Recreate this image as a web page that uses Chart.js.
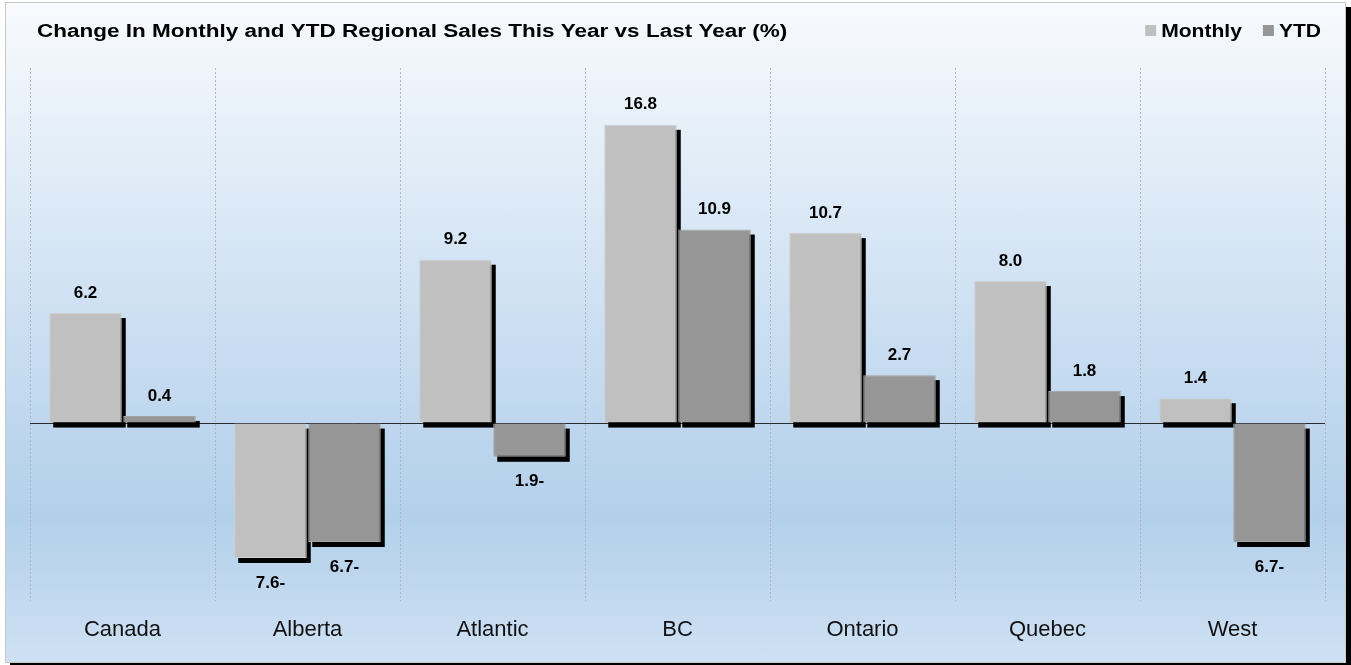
<!DOCTYPE html>
<html>
<head>
<meta charset="utf-8">
<script src="https://cdn.jsdelivr.net/npm/chart.js@4"></script>
<style>
    html, body { margin: 0; padding: 0; background: #fff; }
    body { width: 1351px; height: 665px; position: relative; overflow: hidden; }
    #panel {
        position: absolute; left: 5px; top: 2px; width: 1341px; height: 661px;
        box-sizing: border-box; border: 1px solid #c8c8c8;
        background: linear-gradient(to bottom, #f8fafd 0%, #e7f0f9 18%, #cfe1f3 45%, #bdd6ee 65%, #b3d0eb 78%, #c4daf0 92%, #cfe2f4 100%);
        box-shadow: 5px 5px 0 #000;
    }
    #wrap { position: absolute; left: 0; top: 0; width: 1351px; height: 665px; }
</style>
</head>
<body>
<div id="panel"></div>
<div id="wrap"><canvas id="salesChart"></canvas></div>
<script>
const chartTitle = 'Change In Monthly and YTD Regional Sales This Year vs Last Year (%)';
const regions = ['Canada', 'Alberta', 'Atlantic', 'BC', 'Ontario', 'Quebec', 'West'];
const monthly = [6.2, -7.6, 9.2, 16.8, 10.7, 8.0, 1.4];
const ytd = [0.4, -6.7, -1.9, 10.9, 2.7, 1.8, -6.7];
const yMin = -10;
const yMax = 20;

const FONT = '"Liberation Sans", Arial, sans-serif';

// black drop shadow behind every bar, drawn before the bars
const barShadows = {
    id: 'barShadows',
    beforeDatasetsDraw(chart) {
        const ctx = chart.ctx;
        ctx.save();
        ctx.fillStyle = '#000';
        chart.data.datasets.forEach((ds, i) => {
            chart.getDatasetMeta(i).data.forEach(bar => {
                const p = bar.getProps(['x', 'y', 'base', 'width'], true);
                const top = Math.min(p.y, p.base);
                ctx.fillRect(p.x - p.width / 2 + 4, top + 5, p.width, Math.abs(p.base - p.y));
            });
        });
        ctx.restore();
    }
};

// value labels, negatives written as "7.6-"
const valueLabels = {
    id: 'valueLabels',
    afterDatasetsDraw(chart) {
        const ctx = chart.ctx;
        ctx.save();
        ctx.font = 'bold 17px ' + FONT;
        ctx.fillStyle = '#000';
        ctx.textAlign = 'center';
        ctx.textBaseline = 'middle';
        chart.data.datasets.forEach((ds, i) => {
            chart.getDatasetMeta(i).data.forEach((bar, j) => {
                const v = ds.data[j];
                const text = v < 0 ? Math.abs(v).toFixed(1) + '-' : v.toFixed(1);
                const y = v < 0 ? bar.y + 25 : bar.y - 20;
                ctx.fillText(text, bar.x, y);
            });
        });
        ctx.restore();
    }
};

// title on the left and legend on the right, same row
const header = {
    id: 'header',
    afterDraw(chart) {
        const ctx = chart.ctx;
        ctx.save();
        ctx.fillStyle = '#000';
        ctx.font = 'bold 18px ' + FONT;
        ctx.textBaseline = 'alphabetic';

        ctx.save();
        ctx.translate(37, 37);
        ctx.scale(1.25, 1);
        ctx.fillText(chartTitle, 0, 0);
        ctx.restore();

        const sx = 1.17;
        let right = 1321;
        const items = chart.data.datasets.slice().reverse();
        items.forEach(ds => {
            const w = ctx.measureText(ds.label).width * sx;
            const textX = right - w;
            ctx.save();
            ctx.translate(textX, 37);
            ctx.scale(sx, 1);
            ctx.fillText(ds.label, 0, 0);
            ctx.restore();
            ctx.fillStyle = ds.backgroundColor;
            ctx.fillRect(textX - 16, 25, 11, 11);
            ctx.fillStyle = '#000';
            right = textX - 16 - 21;
        });
        ctx.restore();
    }
};

new Chart(document.getElementById('salesChart'), {
    type: 'bar',
    data: {
        labels: regions,
        datasets: [{
            label: 'Monthly',
            data: monthly,
            backgroundColor: '#c0c0c0',
            borderColor: '#cfcfcf',
            borderWidth: 1,
            categoryPercentage: 0.8,
            barPercentage: 0.98
        }, {
            label: 'YTD',
            data: ytd,
            backgroundColor: '#969696',
            borderColor: '#a4a4a4',
            borderWidth: 1,
            categoryPercentage: 0.8,
            barPercentage: 0.98
        }]
    },
    options: {
        responsive: true,
        maintainAspectRatio: false,
        animation: false,
        layout: {
            padding: { left: 30, right: 26, top: 68, bottom: 6 }
        },
        plugins: {
            legend: { display: false },
            title: { display: false },
            tooltip: { enabled: false }
        },
        scales: {
            x: {
                border: { display: false, dash: [2, 2] },
                grid: {
                    color: '#b4b4b4',
                    lineWidth: 1,
                    drawTicks: false
                },
                ticks: {
                    color: '#111',
                    padding: 16,
                    font: { family: FONT, size: 22 }
                }
            },
            y: {
                min: yMin,
                max: yMax,
                border: { display: false },
                grid: {
                    drawTicks: false,
                    color: (c) => c.tick && c.tick.value === 0 ? '#2b2b2b' : 'rgba(0,0,0,0)'
                },
                ticks: { display: false, stepSize: 10 }
            }
        }
    },
    plugins: [barShadows, valueLabels, header]
});
</script>
</body>
</html>
